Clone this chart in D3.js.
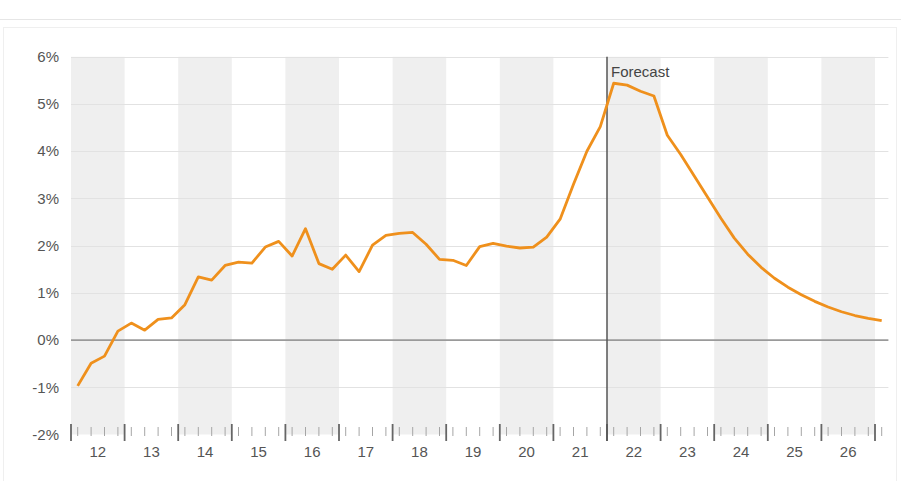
<!DOCTYPE html>
<html>
<head>
<meta charset="utf-8">
<script src="https://cdn.jsdelivr.net/npm/d3@7"></script>
<style>
    body { margin: 0; background: #fff; }
    svg { display: block; font-family: "Liberation Sans", Arial, sans-serif; }
</style>
</head>
<body>
<div id="chart"></div>
<script>
// quarterly values, first quarter of 2012 to first quarter of 2027 (%)
const startYear = 2012;
const growth = [
    -0.97, -0.49, -0.34, 0.19,
    0.36, 0.21, 0.44, 0.47,
    0.75, 1.34, 1.27, 1.58,
    1.65, 1.63, 1.97, 2.09,
    1.78, 2.36, 1.62, 1.50,
    1.80, 1.45, 2.01, 2.22,
    2.26, 2.28, 2.03, 1.71,
    1.69, 1.58, 1.98, 2.05,
    1.99, 1.95, 1.97, 2.18,
    2.56, 3.30, 4.00, 4.52,
    5.44, 5.40, 5.27, 5.17,
    4.34, 3.93, 3.48, 3.03,
    2.58, 2.16, 1.82, 1.54,
    1.31, 1.12, 0.96, 0.82,
    0.70, 0.60, 0.52, 0.46,
    0.41
];
const yearLabels = ['12', '13', '14', '15', '16', '17', '18', '19', '20', '21', '22', '23', '24', '25', '26'];
const yTicks = [-2, -1, 0, 1, 2, 3, 4, 5, 6];
const forecastStart = 2022;
const forecastLabel = 'Forecast';

const width = 901;
const height = 481;

const svg = d3.select('#chart')
    .append('svg')
    .attr('width', width)
    .attr('height', height);

// page frame
svg.append('line')
    .attr('x1', 0).attr('x2', width)
    .attr('y1', 19.5).attr('y2', 19.5)
    .attr('stroke', '#e6e6e6');

svg.append('rect')
    .attr('x', 3.5).attr('y', 27.5)
    .attr('width', 893).attr('height', 470)
    .attr('fill', 'none')
    .attr('stroke', '#efefef');

const x = d3.scaleLinear()
    .domain([startYear, startYear + 15.25])
    .range([71, 888.4]);

const y = d3.scaleLinear()
    .domain([-2, 6])
    .range([434.5, 56.8]);

const plotTop = y(6);
const plotBottom = y(-2);

// alternating year bands
const years = d3.range(startYear, startYear + yearLabels.length);
svg.selectAll('.band')
    .data(years.filter((d, i) => i % 2 === 0))
    .join('rect')
    .attr('class', 'band')
    .attr('x', d => x(d))
    .attr('y', plotTop)
    .attr('width', d => x(d + 1) - x(d))
    .attr('height', plotBottom - plotTop)
    .attr('fill', '#efefef');

// horizontal grid
svg.selectAll('.grid')
    .data(yTicks.filter(d => d !== 0 && d !== -2))
    .join('line')
    .attr('class', 'grid')
    .attr('x1', x.range()[0])
    .attr('x2', x.range()[1])
    .attr('y1', d => Math.round(y(d)) + 0.5)
    .attr('y2', d => Math.round(y(d)) + 0.5)
    .attr('stroke', '#e2e2e2');

// y labels
svg.selectAll('.ylabel')
    .data(yTicks)
    .join('text')
    .attr('class', 'ylabel')
    .attr('x', 59)
    .attr('y', d => y(d))
    .attr('dy', '0.35em')
    .attr('text-anchor', 'end')
    .attr('font-size', '15px')
    .attr('fill', '#555')
    .text(d => `${d}%`);

// zero line
svg.append('line')
    .attr('x1', x.range()[0])
    .attr('x2', x.range()[1])
    .attr('y1', y(0))
    .attr('y2', y(0))
    .attr('stroke', '#9a9a9a')
    .attr('stroke-width', 1.6);

// x axis ticks
const quarterCenters = d3.range(growth.length).map(i => startYear + (i + 0.5) / 4);
svg.selectAll('.minor')
    .data(quarterCenters)
    .join('line')
    .attr('class', 'minor')
    .attr('x1', d => x(d))
    .attr('x2', d => x(d))
    .attr('y1', 427)
    .attr('y2', 436)
    .attr('stroke', '#a5a5a5')
    .attr('stroke-width', 1);

svg.selectAll('.major')
    .data(d3.range(startYear, startYear + yearLabels.length + 1))
    .join('line')
    .attr('class', 'major')
    .attr('x1', d => x(d))
    .attr('x2', d => x(d))
    .attr('y1', 424)
    .attr('y2', 441)
    .attr('stroke', '#666')
    .attr('stroke-width', 1.8);

svg.selectAll('.xlabel')
    .data(yearLabels)
    .join('text')
    .attr('class', 'xlabel')
    .attr('x', (d, i) => x(startYear + i + 0.5))
    .attr('y', 457)
    .attr('text-anchor', 'middle')
    .attr('font-size', '15px')
    .attr('fill', '#555')
    .text(d => d);

// forecast marker
svg.append('line')
    .attr('x1', x(forecastStart))
    .attr('x2', x(forecastStart))
    .attr('y1', plotTop)
    .attr('y2', 441)
    .attr('stroke', '#555')
    .attr('stroke-width', 1.5);

svg.append('text')
    .attr('x', x(forecastStart) + 4)
    .attr('y', 77)
    .attr('font-size', '15px')
    .attr('fill', '#444')
    .text(forecastLabel);

// series line
const line = d3.line()
    .x((d, i) => x(quarterCenters[i]))
    .y(d => y(d));

svg.append('path')
    .datum(growth)
    .attr('d', line)
    .attr('fill', 'none')
    .attr('stroke', '#ef901c')
    .attr('stroke-width', 2.8)
    .attr('stroke-linejoin', 'round');
</script>
</body>
</html>
